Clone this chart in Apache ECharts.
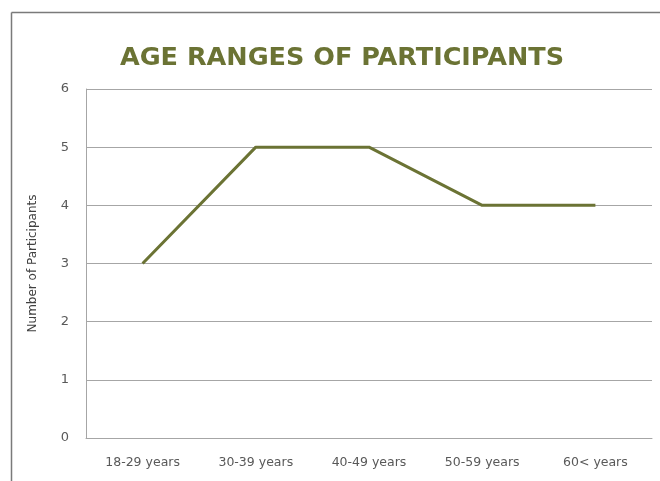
<!DOCTYPE html>
<html><head><meta charset="utf-8">
<script src="https://cdn.jsdelivr.net/npm/echarts@6/dist/echarts.min.js"></script>
<style>html,body{margin:0;padding:0;background:#fff}#c{width:660px;height:481px}</style>
</head><body><div id="c"></div>
<script>
const categories = ['18-29 years','30-39 years','40-49 years','50-59 years','60< years'];
const participants = [3,5,5,4,4];
const yTicks = [0,1,2,3,4,5,6];

const chart = echarts.init(document.getElementById('c'), null, {renderer:'canvas'});
chart.setOption({
  animation:false,
  backgroundColor:'#fff',
  title:{
    text:'AGE RANGES OF PARTICIPANTS',
    left:337, top:40, textAlign:'center',
    textStyle:{fontFamily:'DejaVu Sans', fontWeight:'bold', fontSize:25.5, color:'#6b7334'}
  },
  graphic:[
    {type:'line', shape:{x1:11.5,y1:12.5,x2:660,y2:12.5}, style:{stroke:'#7a7a7a', lineWidth:1.5}},
    {type:'line', shape:{x1:11.5,y1:12.5,x2:11.5,y2:481}, style:{stroke:'#7a7a7a', lineWidth:1.5}}
  ],
  grid:{left:86, right:8, top:89, bottom:43, containLabel:false},
  xAxis:{
    type:'category', data:categories, boundaryGap:true,
    axisLine:{lineStyle:{color:'#a6a6a6', width:1}},
    axisTick:{show:false},
    axisLabel:{color:'#595959', fontFamily:'DejaVu Sans', fontSize:12.5, margin:18}
  },
  yAxis:{
    type:'value', min:yTicks[0], max:yTicks[yTicks.length-1], interval:1,
    name:'Number of Participants', nameLocation:'middle', nameGap:47, nameRotate:90,
    nameTextStyle:{color:'#404040', fontFamily:'DejaVu Sans', fontSize:12},
    axisLine:{show:true, lineStyle:{color:'#a6a6a6', width:1}},
    axisTick:{show:false},
    splitLine:{lineStyle:{color:'#a6a6a6', width:1}},
    axisLabel:{color:'#595959', fontFamily:'DejaVu Sans', fontSize:13, margin:17}
  },
  series:[{
    type:'line', data:participants, symbol:'none',
    lineStyle:{color:'#6b7334', width:3}
  }]
});
</script></body></html>
